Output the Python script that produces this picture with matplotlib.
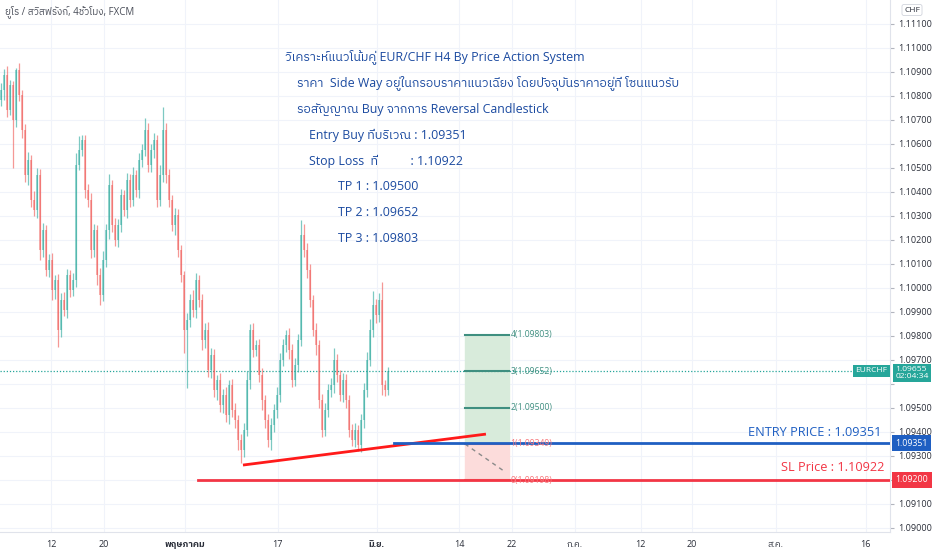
import numpy as np
import matplotlib
matplotlib.use('Agg')
import matplotlib.pyplot as plt
from matplotlib import font_manager
from matplotlib.ticker import MultipleLocator, FuncFormatter
from matplotlib.transforms import blended_transform_factory

# --- Data (EUR/CHF, 4h candles) ---
first_open = 1.10782
closes = [
    1.10823, 1.10886, 1.10740, 1.10845, 1.10699, 1.10907, 1.10803, 1.10657, 1.10470, 1.10532,
    1.10365, 1.10324, 1.10470, 1.10157, 1.10240, 1.10074, 1.10115, 1.09990, 1.10032, 1.09824,
    1.09949, 1.09907, 1.10053, 1.09990, 1.10032, 1.10511, 1.10574, 1.10615, 1.10407, 1.10365,
    1.10157, 1.10240, 1.10053, 1.09970, 1.10115, 1.10240, 1.10428, 1.10261, 1.10199, 1.10261,
    1.10386, 1.10324, 1.10449, 1.10365, 1.10470, 1.10407, 1.10532, 1.10574, 1.10657, 1.10511,
    1.10574, 1.10615, 1.10365, 1.10470, 1.10657, 1.10470, 1.10365, 1.10261, 1.10303, 1.10157,
    1.10053, 1.09824, 1.09865, 1.09949, 1.09907, 1.10032, 1.09949, 1.09782, 1.09824, 1.09657,
    1.09720, 1.09574, 1.09615, 1.09511, 1.09553, 1.09470, 1.09595, 1.09490, 1.09449, 1.09365,
    1.09324, 1.09407, 1.09615, 1.09824, 1.09740, 1.09761, 1.09636, 1.09532, 1.09449, 1.09365,
    1.09428, 1.09490, 1.09553, 1.09699, 1.09761, 1.09803, 1.09740, 1.09615, 1.09678, 1.09782,
    1.10219, 1.10157, 1.10074, 1.09949, 1.09824, 1.09761, 1.09532, 1.09407, 1.09490, 1.09574,
    1.09595, 1.09699, 1.09636, 1.09553, 1.09615, 1.09532, 1.09407, 1.09365, 1.09407, 1.09344,
    1.09449, 1.09574, 1.09699, 1.09824, 1.09928, 1.09886, 1.09949, 1.09595, 1.09574, 1.09655,
]
# wick lengths above / below the candle body, in points (0.00001)
upper_wick = [
    30, 25, 40, 20, 15, 10, 30, 20, 25, 35,
    20, 40, 30, 25, 30, 20, 25, 30, 20, 25,
    30, 35, 25, 20, 30, 50, 60, 20, 20, 25,
    30, 25, 20, 30, 40, 25, 45, 20, 30, 25,
    25, 20, 30, 25, 35, 20, 30, 25, 50, 30,
    25, 30, 20, 40, 95, 30, 25, 20, 30, 25,
    20, 15, 30, 25, 40, 30, 20, 25, 30, 35,
    30, 25, 20, 30, 25, 35, 20, 25, 30, 20,
    25, 30, 40, 25, 30, 20, 25, 30, 20, 25,
    30, 25, 35, 30, 25, 20, 30, 25, 30, 25,
    63, 45, 30, 25, 20, 30, 20, 25, 30, 25,
    30, 50, 25, 20, 30, 25, 20, 25, 30, 20,
    25, 30, 35, 45, 60, 25, 30, 75, 20, 15,
]
lower_wick = [
    25, 40, 30, 20, 200, 30, 25, 35, 30, 40,
    30, 25, 35, 40, 30, 25, 30, 40, 35, 70,
    30, 25, 35, 30, 25, 30, 20, 25, 35, 30,
    35, 30, 40, 42, 25, 30, 35, 30, 25, 30,
    30, 25, 35, 30, 25, 30, 35, 30, 25, 30,
    30, 35, 30, 25, 30, 35, 30, 25, 40, 30,
    30, 95, 240, 30, 30, 35, 30, 40, 35, 30,
    35, 30, 40, 30, 35, 30, 40, 30, 35, 40,
    55, 30, 25, 35, 30, 25, 30, 40, 35, 30,
    40, 30, 35, 30, 25, 30, 35, 30, 25, 30,
    25, 30, 35, 30, 25, 40, 35, 30, 25, 30,
    30, 35, 30, 25, 30, 35, 30, 25, 30, 25,
    30, 35, 30, 25, 30, 35, 30, 40, 25, 20,
]

x_tick_pos = [16.7, 34.3, 61.3, 92.3, 125.3, 152.7, 170.3, 191.3, 213.3, 230.3, 258.3, 288.3]
x_tick_labels = ['12', '20', 'พฤษภาคม', '17', 'มิ.ย.', '14', '22', 'ก.ค.', '12', '20', 'ส.ค.', '16']
month_labels = ['พฤษภาคม', 'มิ.ย.']

current_price = 1.09655
entry_price = 1.09351
sl_line_price = 1.09200
support_line = [(80.7, 1.09261), (161.7, 1.09390)]
entry_line_start = 131.0
sl_line_start = 65.7

fib_levels = [1.09198, 1.09349, 1.09500, 1.09652, 1.09803]
fib_start, fib_end = 154.7, 169.3

header = 'ยูโร / สวิสฟรังก์, 4ชั่วโมง, FXCM'
note_lines = [
    'วิเคราะห์แนวโน้มคู่ EUR/CHF H4 By Price Action System',
    'ราคา  Side Way อยู่ในกรอบราคาแนวเฉียง โดยปัจจุบันราคาอยู่ที่ โซนแนวรับ',
    'รอสัญญาณ Buy จากการ Reversal Candlestick',
    'Entry Buy ที่บริเวณ : 1.09351',
    'Stop Loss  ที่          : 1.10922',
    'TP 1 : 1.09500',
    'TP 2 : 1.09652',
    'TP 3 : 1.09803',
]
entry_label = 'ENTRY PRICE : 1.09351'
sl_label = 'SL Price : 1.10922'


def find_thai_family():
    names = sorted({f.name for f in font_manager.fontManager.ttflist})
    for n in names:
        if 'thai' in n.lower():
            return n
    try:
        from fontTools.ttLib import TTFont
    except ImportError:
        return None
    seen = set()
    for f in font_manager.fontManager.ttflist:
        if f.name in seen:
            continue
        seen.add(f.name)
        try:
            cmap = TTFont(f.fname, fontNumber=0, lazy=True).getBestCmap()
        except Exception:
            continue
        if cmap and 0x0E01 in cmap:
            return f.name
    return None


thai = find_thai_family()
families = ['Open Sans'] + ([thai] if thai else []) + ['DejaVu Sans']
plt.rcParams['font.family'] = families

UP = '#26a69a'
DOWN = '#ef5350'
GRID = '#f0f3fa'
TEXT_BLUE = '#1b4aa0'
ENTRY_BLUE = '#1f5fc2'
SL_RED = '#f23645'

fig = plt.figure(figsize=(9.32, 5.5), dpi=100)
ax = fig.add_axes([0, 18 / 550, 890 / 932, 532 / 550])

# --- candles ---
closes_a = np.array(closes)
opens_a = np.concatenate([[first_open], closes_a[:-1]])
idx = np.arange(len(closes_a))
highs = np.maximum(opens_a, closes_a) + np.array(upper_wick) * 1e-5
lows = np.minimum(opens_a, closes_a) - np.array(lower_wick) * 1e-5
colors = [UP if c >= o else DOWN for o, c in zip(opens_a, closes_a)]
ax.vlines(idx, lows, highs, colors=colors, linewidth=0.9, alpha=0.6, zorder=3)
ax.bar(idx, np.abs(closes_a - opens_a), bottom=np.minimum(opens_a, closes_a),
       width=0.8, color=colors, alpha=0.45, linewidth=0, zorder=3)

# --- current price dotted line ---
ax.axhline(current_price, color=UP, lw=0.9, ls=(0, (1, 1.5)), zorder=2)

# --- support trend line ---
ax.plot([p[0] for p in support_line], [p[1] for p in support_line],
        color='#ff1a1a', lw=2, zorder=5, solid_capstyle='butt')

# --- position / fib box ---
ax.fill_between([fib_start, fib_end], fib_levels[1], fib_levels[4],
                color='#d8ebdb', zorder=1)
ax.fill_between([fib_start, fib_end], fib_levels[0], fib_levels[1],
                color='#fcdcdb', zorder=1)
for k, lv in enumerate(fib_levels):
    col = '#f7787c' if k < 2 else '#3f8f80'
    ax.plot([fib_start, fib_end], [lv, lv], color=col, lw=1.5, zorder=4)
    ax.text(fib_end + 0.6, lv, f'{k}({lv:.5f})', color=col, fontsize=6.2,
            va='center', ha='left', zorder=6)
ax.plot([fib_start, fib_end - 1.6], [fib_levels[1], 1.09236], color='#8a8a8a',
        lw=1, ls=(0, (3, 3)), zorder=4)

# --- entry / SL horizontal lines ---
ax.plot([entry_line_start, 300], [entry_price, entry_price], color=ENTRY_BLUE,
        lw=2, zorder=5)
ax.plot([sl_line_start, 300], [sl_line_price, sl_line_price], color=SL_RED,
        lw=2, zorder=5)

ax.set_xlim(-0.3, 296.4)
ax.set_ylim(1.08982, 1.11199)

tr = blended_transform_factory(ax.transAxes, ax.transData)
ax.annotate(entry_label, xy=(1, entry_price), xycoords=tr, xytext=(-6, 3),
            textcoords='offset points', ha='right', va='bottom',
            color=ENTRY_BLUE, fontsize=9.2, zorder=6)
ax.annotate(sl_label, xy=(1, sl_line_price), xycoords=tr, xytext=(-4, 4),
            textcoords='offset points', ha='right', va='bottom',
            color=SL_RED, fontsize=9.2, zorder=6)

# --- analysis note ---
indents = [285, 297, 297, 309, 309, 338, 338, 338]
for k, line in enumerate(note_lines):
    ax.text(indents[k] / 890, 1 - (57 + 26 * k) / 532, line, transform=ax.transAxes,
            color=TEXT_BLUE, fontsize=8.9, va='center', ha='left', zorder=6)

# --- axes styling ---
hidden_ticks = [sl_line_price, 1.09600]   # covered by the price tags


def fmt_price(v, pos):
    if any(abs(v - h) < 1e-7 for h in hidden_ticks):
        return ''
    return f'{v:.5f}'


ax.yaxis.tick_right()
ax.yaxis.set_major_locator(MultipleLocator(0.001))
ax.yaxis.set_major_formatter(FuncFormatter(fmt_price))
ax.tick_params(axis='y', labelsize=6.5, labelcolor='#2a2e39', color='#b2b5be',
               length=3, width=0.8, pad=3)
ax.set_xticks(x_tick_pos)
ax.set_xticklabels(x_tick_labels)
ax.tick_params(axis='x', labelsize=6.5, labelcolor='#2a2e39', length=0, pad=6)
for lab in ax.get_xticklabels():
    if lab.get_text() in month_labels:
        lab.set_fontweight('bold')
ax.grid(True, color=GRID, lw=0.8, zorder=0)
ax.set_axisbelow(True)
for s in ['top', 'left']:
    ax.spines[s].set_visible(False)
ax.spines['right'].set_color('#e0e3eb')
ax.spines['bottom'].set_color('#e0e3eb')


# --- price labels on the right axis ---
def price_tag(y, text, face, fs=6.3, pad=0.4, ls=1.2):
    ax.text(1.006, y, text, transform=tr, ha='left', va='center', fontsize=fs,
            color='white', zorder=10, clip_on=False, linespacing=ls,
            bbox=dict(boxstyle=f'square,pad={pad}', fc=face, ec='none'))


price_tag(current_price - 0.00011, f'{current_price:.5f}\n02:04:34', UP,
          fs=6.1, pad=0.25, ls=1.0)
price_tag(entry_price, f'{entry_price:.5f}', ENTRY_BLUE)
price_tag(sl_line_price, f'{sl_line_price:.5f}', SL_RED)
ax.text(0.997, current_price, 'EURCHF', transform=tr, ha='right', va='center',
        fontsize=6, color='white', zorder=10,
        bbox=dict(boxstyle='square,pad=0.3', fc=UP, ec='none'))

fig.text(912 / 932, 1 - 10 / 550, 'CHF', ha='center', va='center', fontsize=6,
         color='#2a2e39', bbox=dict(boxstyle='round,pad=0.25', fc='white', ec='#d1d4dc', lw=0.6))
fig.text(5 / 932, 1 - 12 / 550, header, ha='left', va='center', fontsize=7,
         color='#4a4e59')

fig.savefig('out.png', dpi=100)
